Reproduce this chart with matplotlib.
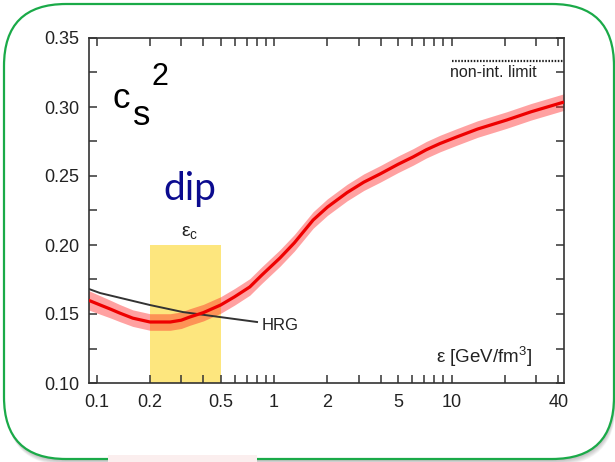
import matplotlib
matplotlib.use("Agg")
import matplotlib.pyplot as plt
from matplotlib.patches import FancyBboxPatch, Rectangle
from matplotlib.ticker import FixedLocator, FixedFormatter, LogLocator, MultipleLocator, NullFormatter

plt.rcParams['font.family'] = ['Liberation Sans', 'DejaVu Sans']
plt.rcParams['mathtext.fontset'] = 'custom'
plt.rcParams['mathtext.rm'] = 'Liberation Sans'
plt.rcParams['mathtext.it'] = 'Liberation Sans'

# Lattice QCD speed of sound squared vs energy density
eps = [0.09, 0.105, 0.12, 0.135, 0.16, 0.2, 0.26, 0.3, 0.335, 0.4, 0.5, 0.6,
       0.73, 0.85, 1.08, 1.3, 1.66, 2.0, 2.58, 3.2, 3.96, 5.0, 6.07, 7.2, 8.6,
       10.7, 14, 20.5, 28, 43]
cs2 = [0.160, 0.1565, 0.1535, 0.1507, 0.147, 0.1442, 0.1442, 0.1455, 0.1478,
       0.151, 0.1565, 0.1625, 0.1696, 0.178, 0.1906, 0.2015, 0.2181, 0.2275,
       0.2380, 0.2455, 0.2515, 0.2585, 0.2638, 0.2690, 0.2735, 0.2783, 0.2840,
       0.2906, 0.2965, 0.3036]
cs2_err = [0.007, 0.0067, 0.0064, 0.0062, 0.006, 0.006, 0.006, 0.006, 0.006,
           0.006, 0.006, 0.006, 0.006, 0.006, 0.006, 0.006, 0.006, 0.006,
           0.006, 0.006, 0.006, 0.006, 0.006, 0.006, 0.006, 0.006, 0.006,
           0.006, 0.006, 0.006]

# Hadron resonance gas curve
eps_hrg = [0.0907, 0.1047, 0.2, 0.307, 0.496, 0.802]
cs2_hrg = [0.1681, 0.1652, 0.1565, 0.1514, 0.1478, 0.1442]

# Non-interacting (conformal) limit
cs2_free = 1.0 / 3.0
eps_free_start = 10.1

# Critical energy density region
eps_c_range = [0.2, 0.5]
cs2_c_top = 0.20

xticks = [0.1, 0.2, 0.5, 1, 2, 5, 10, 40]
xticklabels = ['0.1', '0.2', '0.5', '1', '2', '5', '10', '40']
yticks = [0.10, 0.15, 0.20, 0.25, 0.30, 0.35]
yticklabels = ['0.10', '0.15', '0.20', '0.25', '0.30', '0.35']

W, H = 615, 462
fig = plt.figure(figsize=(W / 100, H / 100), dpi=100)
fig.patch.set_facecolor('white')

# Rounded frame drawn in pixel units on a full-figure backdrop
bg = fig.add_axes([0, 0, 1, 1], zorder=0)
bg.set_xlim(0, W)
bg.set_ylim(H, 0)
bg.axis('off')
for i in range(8):
    off = 1 + i * 0.8
    bg.add_patch(FancyBboxPatch((4 + off * 0.3, 4 + off), 610, 455,
                                boxstyle="round,pad=0,rounding_size=62",
                                facecolor='#000000', edgecolor='none',
                                alpha=0.035))
bg.add_patch(FancyBboxPatch((4, 4), 610, 455,
                            boxstyle="round,pad=0,rounding_size=62",
                            facecolor='white', edgecolor='#1aaa48',
                            linewidth=1.6))
# break in the lower frame edge
bg.add_patch(Rectangle((108, 455), 149, 7, facecolor='#fbeeee',
                       edgecolor='none'))

L, R, T, B = 89, 564, 38, 383
ax = fig.add_axes([L / W, 1 - B / H, (R - L) / W, (B - T) / H], zorder=1)
ax.set_xscale('log')
ax.set_xlim(0.0907, 43.0)
ax.set_ylim(0.10, 0.35)

ax.add_patch(Rectangle((eps_c_range[0], 0.10), eps_c_range[1] - eps_c_range[0],
                       cs2_c_top - 0.10, facecolor='#fde67e', edgecolor='none',
                       zorder=1))
lo = [c - e for c, e in zip(cs2, cs2_err)]
hi = [c + e for c, e in zip(cs2, cs2_err)]
ax.fill_between(eps, lo, hi, color='#ff2020', alpha=0.42, linewidth=0, zorder=2)
ax.plot(eps, cs2, color='#ee0000', lw=2.3, zorder=4, solid_capstyle='butt',
        solid_joinstyle='round')
ax.plot(eps_hrg, cs2_hrg, color='#333333', lw=1.4, zorder=3)
ax.plot([eps_free_start, 43.0], [cs2_free, cs2_free], color='#222222', lw=1.6,
        linestyle=(0, (0.7, 0.7)), zorder=3)

txt = '#222222'
ax.text(0.856, 0.142, 'HRG', fontsize=12, color=txt, va='center', ha='left')
ax.text(9.8, 0.3217, 'non-int. limit', fontsize=11.5, color=txt,
        va='baseline', ha='left')
ax.text(28.4, 0.1191, r'ε [GeV/fm$^{3}$]', fontsize=13.5, color=txt,
        va='center', ha='right')
ax.text(0.336, 0.2094, r'ε$_{\mathrm{c}}$', fontsize=14, color=txt,
        va='center', ha='center')
ax.text(0.336, 0.2326, 'dip', fontsize=28, color='#0b0b8f',
        family=['Lato', 'DejaVu Sans'], va='baseline', ha='center')

ax.text(0.0505, 0.797, 'c', fontsize=25, color='black',
        transform=ax.transAxes, va='baseline', ha='left')
ax.text(0.0926, 0.748, 's', fontsize=25, color='black',
        transform=ax.transAxes, va='baseline', ha='left')
ax.text(0.1326, 0.864, '2', fontsize=22, color='black',
        transform=ax.transAxes, va='baseline', ha='left')

ax.xaxis.set_major_locator(FixedLocator(xticks))
ax.xaxis.set_major_formatter(FixedFormatter(xticklabels))
ax.xaxis.set_minor_locator(LogLocator(base=10, subs=range(2, 10), numticks=20))
ax.xaxis.set_minor_formatter(NullFormatter())
ax.yaxis.set_major_locator(FixedLocator(yticks))
ax.yaxis.set_major_formatter(FixedFormatter(yticklabels))
ax.yaxis.set_minor_locator(MultipleLocator(0.025))

for sp in ax.spines.values():
    sp.set_color('#333333')
    sp.set_linewidth(1.2)
ax.tick_params(which='both', direction='in', top=True, right=True,
               length=5.5, width=1.1, color='#333333')
ax.tick_params(axis='x', which='major', pad=8, labelsize=13, labelcolor=txt)
ax.tick_params(axis='y', which='major', pad=7, labelsize=13, labelcolor=txt)

fig.savefig('out.png', dpi=100)
